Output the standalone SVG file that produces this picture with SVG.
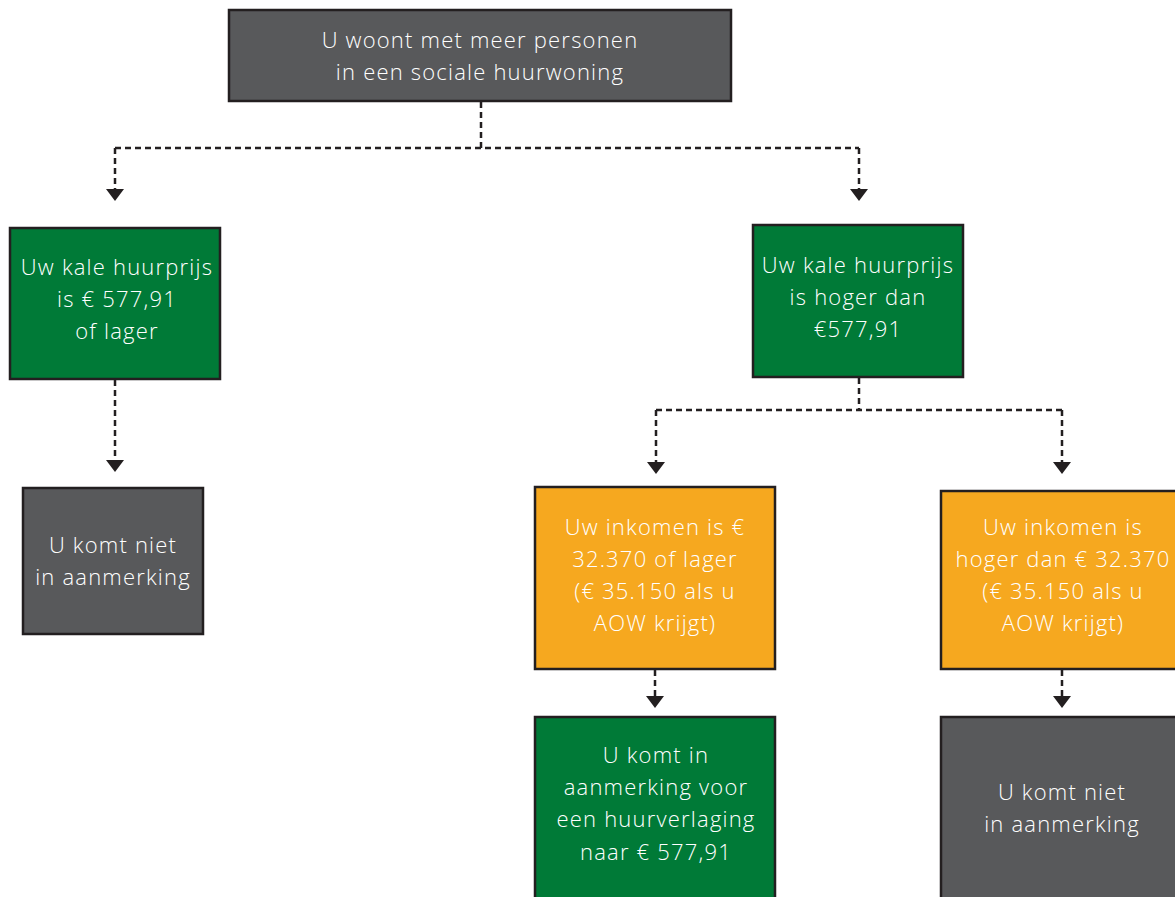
<svg xmlns="http://www.w3.org/2000/svg" width="1175" height="897" viewBox="0 0 1175 897">
<style>
.box{stroke:#231f20;stroke-width:2.5}
.gray{fill:#58595b}
.green{fill:#007a37}
.orange{fill:#f6a81f}
.t{font-family:"Open Sans","Lato",sans-serif;font-weight:300;font-size:22px;letter-spacing:1.2px;fill:#ffffff;text-anchor:middle}
.c{fill:none;stroke:#231f20;stroke-width:2.5;stroke-dasharray:6 4}
</style>
<rect width="1175" height="897" fill="#ffffff"/>
<g id="connectors">
<path class="c" d="M481,102 V148"/>
<path class="c" d="M115,148 H859"/>
<path class="c" d="M115,148 V189"/>
<path class="c" d="M859,148 V189"/>
<polygon points="106,189 124,189 115,201" fill="#231f20"/>
<polygon points="850,189 868,189 859,201" fill="#231f20"/>
<path class="c" d="M115,380 V460"/>
<polygon points="106,460 124,460 115,472" fill="#231f20"/>
<path class="c" d="M859,378 V410"/>
<path class="c" d="M656,410 H1062"/>
<path class="c" d="M656,410 V462"/>
<path class="c" d="M1062,410 V462"/>
<polygon points="647,462 665,462 656,474" fill="#231f20"/>
<polygon points="1053,462 1071,462 1062,474" fill="#231f20"/>
<path class="c" d="M655,670 V696"/>
<polygon points="646,696 664,696 655,708" fill="#231f20"/>
<path class="c" d="M1062,670 V696"/>
<polygon points="1053,696 1071,696 1062,708" fill="#231f20"/>
</g>
<g id="n-top">
<rect class="box gray" x="229" y="10" width="502" height="91"/>
<text class="t" x="480" y="48">U woont met meer personen</text>
<text class="t" x="480" y="80">in een sociale huurwoning</text>
</g>
<g id="n-green-left">
<rect class="box green" x="10" y="228" width="210" height="151"/>
<text class="t" x="117" y="275">Uw kale huurprijs</text>
<text class="t" x="117" y="307">is € 577,91</text>
<text class="t" x="117" y="339">of lager</text>
</g>
<g id="n-gray-left">
<rect class="box gray" x="23" y="488" width="180" height="146"/>
<text class="t" x="113" y="553">U komt niet</text>
<text class="t" x="113" y="585">in aanmerking</text>
</g>
<g id="n-green-right">
<rect class="box green" x="753" y="225" width="210" height="152"/>
<text class="t" x="858" y="273">Uw kale huurprijs</text>
<text class="t" x="858" y="305">is hoger dan</text>
<text class="t" x="858" y="337">€577,91</text>
</g>
<g id="n-orange-left">
<rect class="box orange" x="535" y="487" width="240" height="182"/>
<text class="t" x="655" y="535">Uw inkomen is €</text>
<text class="t" x="655" y="567">32.370 of lager</text>
<text class="t" x="655" y="599">(€ 35.150 als u</text>
<text class="t" x="655" y="631">AOW krijgt)</text>
</g>
<g id="n-orange-right">
<rect class="box orange" x="941" y="491" width="242" height="178"/>
<text class="t" x="1063" y="535">Uw inkomen is</text>
<text class="t" x="1063" y="567">hoger dan € 32.370</text>
<text class="t" x="1063" y="599">(€ 35.150 als u</text>
<text class="t" x="1063" y="631">AOW krijgt)</text>
</g>
<g id="n-green-bottom">
<rect class="box green" x="535" y="717" width="240" height="190"/>
<text class="t" x="656" y="763">U komt in</text>
<text class="t" x="656" y="795">aanmerking voor</text>
<text class="t" x="656" y="827">een huurverlaging</text>
<text class="t" x="656" y="860">naar € 577,91</text>
</g>
<g id="n-gray-right">
<rect class="box gray" x="941" y="717" width="242" height="190"/>
<text class="t" x="1062" y="800">U komt niet</text>
<text class="t" x="1062" y="832">in aanmerking</text>
</g>
</svg>
